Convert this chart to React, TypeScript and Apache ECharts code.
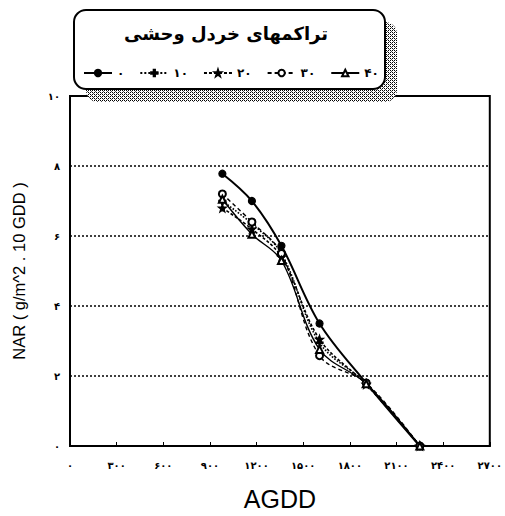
import React, { useEffect, useRef } from "react";
import * as echarts from "echarts";

const agdd = [980, 1170, 1360, 1605, 1905, 2250];
const seriesNames = ["۰", "۱۰", "۲۰", "۳۰", "۴۰"];
const nar0 = [7.78, 7.0, 5.72, 3.5, 1.8, 0];
const nar10 = [7.0, 6.35, 5.5, 2.95, 1.78, 0];
const nar20 = [6.8, 6.2, 5.4, 3.05, 1.76, 0];
const nar30 = [7.2, 6.4, 5.5, 2.58, 1.8, 0];
const nar40 = [7.05, 6.05, 5.3, 2.76, 1.78, 0];
const xTicks = [0, 300, 600, 900, 1200, 1500, 1800, 2100, 2400, 2700];
const yTicks = [0, 2, 4, 6, 8, 10];
const titleText = "تراکمهای خردل وحشی";

const fa = (v: number | string) =>
  String(v).replace(/\d/g, (d) => "۰۱۲۳۴۵۶۷۸۹"[Number(d)]);

const PLUS = "path://M4,0 L6,0 L6,4 L10,4 L10,6 L6,6 L6,10 L4,10 L4,6 L0,6 L0,4 L4,4 Z";
const STAR =
  "path://M5,0 L6.2,3.6 L10,3.6 L7,5.9 L8.1,9.5 L5,7.3 L1.9,9.5 L3,5.9 L0,3.6 L3.8,3.6 Z";

function makeDots(): string {
  const c = document.createElement("canvas");
  c.width = 4;
  c.height = 4;
  const ctx = c.getContext("2d");
  if (ctx) {
    ctx.fillStyle = "#fff";
    ctx.fillRect(0, 0, 4, 4);
    ctx.fillStyle = "#000";
    ctx.fillRect(0, 0, 1, 1);
    ctx.fillRect(2, 2, 1, 1);
    ctx.fillRect(2, 0, 1, 1);
    ctx.fillRect(0, 2, 1, 1);
    ctx.fillStyle = "#555";
    ctx.fillRect(1, 1, 1, 1);
    ctx.fillRect(3, 3, 1, 1);
  }
  return c.toDataURL();
}

export default function App() {
  const ref = useRef<HTMLDivElement>(null);
  useEffect(() => {
    if (!ref.current) return;
    const chart = echarts.init(ref.current, undefined, { renderer: "svg" });
    const pair = (ys: number[]) => agdd.map((x, i) => [x, ys[i]]);
    const dots = makeDots();
    const all = [nar0, nar10, nar20, nar30, nar40];
    const symbols = ["circle", PLUS, STAR, "emptyCircle", "emptyTriangle"];
    const sizes = [7, 7, 8, 7, 7];
    const lineTypes: any[] = ["solid", "dotted", [3, 2], [4, 3], "solid"];
    const widths = [2, 1.6, 1.6, 1.4, 1.4];
    chart.setOption({
      animation: false,
      backgroundColor: "#fff",
      grid: {
        left: 70,
        top: 96,
        width: 432,
        height: 359,
        show: true,
        borderColor: "#000",
        borderWidth: 2,
      },
      legend: {
        left: 78,
        top: 62,
        itemWidth: 28,
        itemHeight: 8,
        itemGap: 15,
        data: seriesNames,
        textStyle: {
          color: "#000",
          fontWeight: "bold",
          fontSize: 12,
          fontFamily: "DejaVu Sans",
        },
        z: 20,
      },
      xAxis: {
        type: "value",
        min: 0,
        max: 2700,
        interval: 300,
        name: "AGDD",
        nameLocation: "middle",
        nameGap: 40,
        nameTextStyle: { fontSize: 25, color: "#000", fontFamily: "Liberation Sans" },
        axisLine: { show: true, lineStyle: { color: "#000", width: 2 } },
        axisTick: { show: true, inside: true, length: 4, lineStyle: { color: "#000" } },
        axisLabel: {
          margin: 14,
          color: "#000",
          fontSize: 10,
          fontWeight: "bold",
          fontFamily: "DejaVu Sans",
          formatter: (v: number) => (xTicks.includes(v) ? fa(v) : ""),
        },
        splitLine: { show: false },
      },
      yAxis: {
        type: "value",
        min: 0,
        max: 10,
        interval: 2,
        name: "NAR ( g/m^2 . 10 GDD )",
        nameLocation: "middle",
        nameGap: 43,
        nameTextStyle: { fontSize: 16.5, color: "#000", fontFamily: "Liberation Sans" },
        axisLine: { show: true, lineStyle: { color: "#000", width: 2 } },
        axisTick: { show: false },
        axisLabel: {
          margin: 10,
          color: "#000",
          fontSize: 10,
          fontWeight: "bold",
          fontFamily: "DejaVu Sans",
          formatter: (v: number) => (yTicks.includes(v) ? fa(v) : ""),
        },
        splitLine: {
          show: true,
          lineStyle: { color: "#000", type: [2, 2], width: 1.5 },
        },
      },
      graphic: [
        {
          type: "rect",
          z: 10,
          shape: { x: 86, y: 22, width: 311, height: 80, r: 12 },
          style: { fill: { image: dots, repeat: "repeat" } as any, stroke: "none" },
        },
        {
          type: "rect",
          z: 11,
          shape: { x: 74, y: 10, width: 311, height: 79, r: 12 },
          style: { fill: "#fff", stroke: "#000", lineWidth: 2 },
        },
        {
          type: "text",
          z: 12,
          x: 226,
          y: 33,
          style: {
            text: titleText,
            fill: "#000",
            font: "bold 18px 'DejaVu Sans'",
            align: "center",
            verticalAlign: "middle",
          },
        },
      ],
      series: all.map((ys, i) => ({
        name: seriesNames[i],
        type: "line",
        data: pair(ys),
        smooth: 0.35,
        symbol: symbols[i],
        symbolSize: sizes[i],
        showSymbol: true,
        lineStyle: { color: "#000", width: widths[i], type: lineTypes[i] },
        itemStyle: { color: "#000", borderColor: "#000", borderWidth: 1.2 },
        z: 3,
      })),
    });
    return () => chart.dispose();
  }, []);
  return (
    <div
      ref={ref}
      style={{ position: "fixed", left: 0, top: 0, width: 505, height: 516 }}
    />
  );
}
